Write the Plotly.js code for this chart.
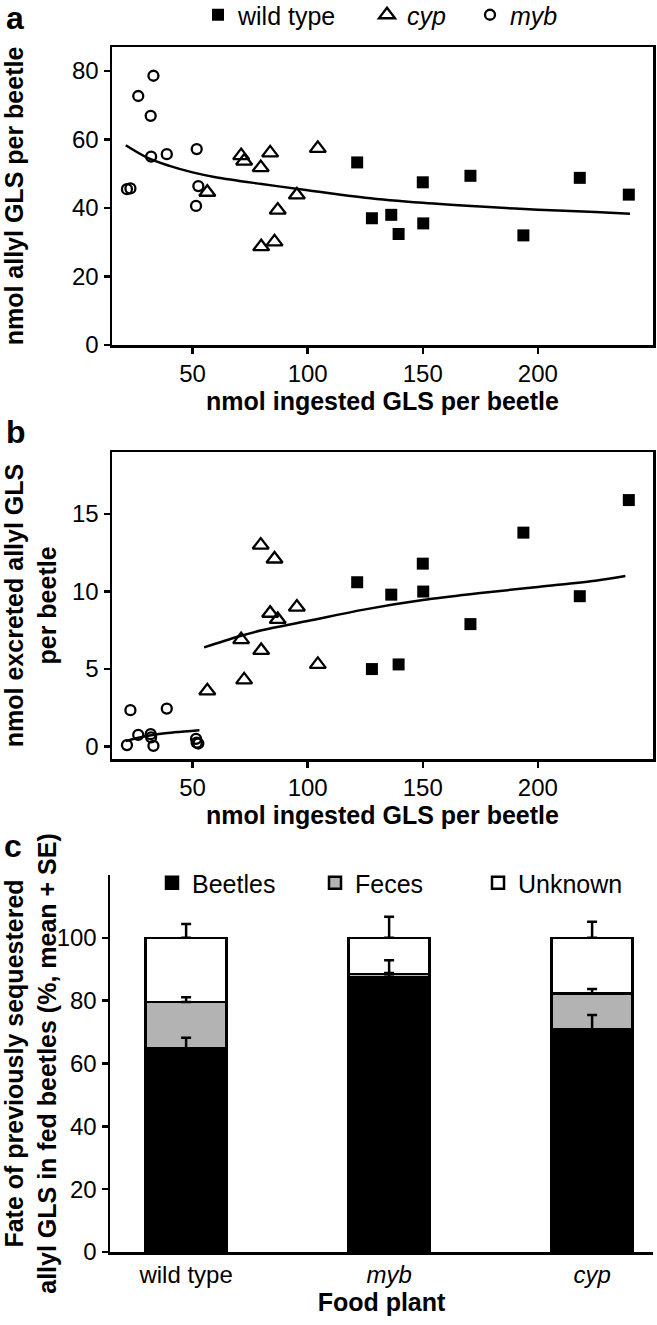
<!DOCTYPE html>
<html>
<head>
<meta charset="utf-8">
<script src="https://cdn.plot.ly/plotly-3.0.1.min.js"></script>
<style>html,body{margin:0;padding:0;background:#fff;}#chart{width:657px;height:1325px;}</style>
</head>
<body>
<div id="chart"></div>
<script>
// ---------- Panel a / b data (nmol ingested GLS per beetle) ----------
const wtX = [121.5,127.9,136.3,139.5,150.0,150.2,170.7,193.7,218.2,239.5];
const wtAllyl = [53.3,37.0,38.0,32.4,47.5,35.5,49.4,32.0,48.8,43.9];
const wtExcreted = [10.6,5.0,9.8,5.3,11.8,10.0,7.9,13.8,9.7,15.9];

const cypX = [56.4,71.1,72.4,79.6,79.8,83.7,85.6,87.0,95.3,104.4];
const cypAllyl = [44.6,55.3,53.7,51.8,28.7,56.1,30.1,39.4,43.8,57.4];
const cypExcreted = [3.6,6.9,4.3,13.0,6.2,8.6,12.1,8.2,9.0,5.3];

const mybX = [21.5,23.0,26.4,31.8,32.0,33.0,38.8,51.5,51.8,52.5];
const mybAllyl = [45.5,45.7,72.7,66.9,55.0,78.6,55.7,40.6,57.2,46.4];
const mybExcreted = [0.1,2.35,0.75,0.8,0.6,0.05,2.45,0.5,0.25,0.2];

// fitted curves
const fitAX = [21,30,40,50,60,80,100,125,150,175,200,225,240];
const fitAY = [58.3,54.8,52.3,50.4,49.0,47.0,45.2,43.0,41.5,40.4,39.5,38.8,38.3];
const fitB1X = [21,26,34,42,53];
const fitB1Y = [0.35,0.55,0.78,0.92,1.06];
const fitB2X = [55,70,80,100,125,150,175,200,225,238];
const fitB2Y = [6.4,7.1,7.5,8.1,8.85,9.45,9.9,10.3,10.7,11.0];

// ---------- Panel c data ----------
const plants = ['wild type','myb','cyp'];
const plantLabels = ['wild type','<i>myb</i>','<i>cyp</i>'];
const beetles = [64.8,87.6,70.8];
const feces = [14.8,0.9,11.5];
const unknown = [20.4,11.5,17.7];
const beetlesSE = [3.4,1.2,4.6];
const fecesSE = [1.5,4.4,1.4];
const unknownSE = [4.4,6.7,5.1];

const FONT = 'Liberation Sans, Arial, sans-serif';
const W = 657, H = 1325;
const px = v => v / W;
const py = v => 1 - v / H;

const sqM = {symbol:'square', size:12, color:'black', line:{width:0}};
const triM = {symbol:'triangle-up-open', size:14, color:'black', line:{width:2.3, color:'black'}};
const cirM = {symbol:'circle-open', size:10, color:'black', line:{width:2.3, color:'black'}};

const traces = [
  {type:'scatter', mode:'markers', name:'wild type', x:wtX, y:wtAllyl, marker:sqM, xaxis:'x', yaxis:'y', legend:'legend'},
  {type:'scatter', mode:'markers', name:'<i>cyp</i>', x:cypX, y:cypAllyl, marker:triM, xaxis:'x', yaxis:'y', legend:'legend3'},
  {type:'scatter', mode:'markers', name:'<i>myb</i>', x:mybX, y:mybAllyl, marker:cirM, xaxis:'x', yaxis:'y', legend:'legend3'},
  {type:'scatter', mode:'lines', x:fitAX, y:fitAY, line:{color:'black', width:2.5, shape:'spline'}, showlegend:false, xaxis:'x', yaxis:'y'},

  {type:'scatter', mode:'markers', x:wtX, y:wtExcreted, marker:sqM, showlegend:false, xaxis:'x2', yaxis:'y2'},
  {type:'scatter', mode:'markers', x:cypX, y:cypExcreted, marker:triM, showlegend:false, xaxis:'x2', yaxis:'y2'},
  {type:'scatter', mode:'markers', x:mybX, y:mybExcreted, marker:cirM, showlegend:false, xaxis:'x2', yaxis:'y2'},
  {type:'scatter', mode:'lines', x:fitB1X, y:fitB1Y, line:{color:'black', width:2.5, shape:'spline'}, showlegend:false, xaxis:'x2', yaxis:'y2'},
  {type:'scatter', mode:'lines', x:fitB2X, y:fitB2Y, line:{color:'black', width:2.5, shape:'spline'}, showlegend:false, xaxis:'x2', yaxis:'y2'},

  {type:'bar', name:'Beetles', x:plants, y:beetles, width:0.4, marker:{color:'black', line:{color:'black', width:2.5}}, xaxis:'x3', yaxis:'y3', legend:'legend2'},
  {type:'bar', name:'Feces', x:plants, y:feces, width:0.4, marker:{color:'#b3b3b3', line:{color:'black', width:2.5}}, xaxis:'x3', yaxis:'y3', legend:'legend2'},
  {type:'bar', name:'Unknown', x:plants, y:unknown, width:0.4, marker:{color:'white', line:{color:'black', width:2.5}}, xaxis:'x3', yaxis:'y3', legend:'legend2'}
];

// error bars (mean + SE) at the top of each stacked segment
const segTops = [
  beetles.map((b,i)=>b),
  beetles.map((b,i)=>b+feces[i]),
  beetles.map((b,i)=>b+feces[i]+unknown[i])
];
const segSE = [beetlesSE, fecesSE, unknownSE];
segTops.forEach((tops,k)=>{
  traces.push({type:'scatter', mode:'markers', x:plants, y:tops, showlegend:false, hoverinfo:'skip',
    marker:{size:1, color:'rgba(0,0,0,0)'}, xaxis:'x3', yaxis:'y3',
    error_y:{type:'data', symmetric:false, array:segSE[k], arrayminus:[0,0,0], color:'black', thickness:2.5, width:5}});
});

const tickF = {family:FONT, size:24, color:'black'};
const titleF = {family:FONT, size:25, color:'black', weight:'bold'};
const legF = {family:FONT, size:25, color:'black'};

const boxAxis = {showline:true, linecolor:'black', linewidth:2.5, mirror:true, ticks:'outside', ticklen:6, tickwidth:2.5, tickcolor:'black',
  showgrid:false, zeroline:false, tickfont:tickF};

const layout = {
  width:W, height:H, margin:{l:0,r:0,t:0,b:0, autoexpand:false}, paper_bgcolor:'white', plot_bgcolor:'white',
  font:{family:FONT, color:'black'},
  barmode:'stack',
  xaxis: Object.assign({}, boxAxis, {domain:[px(112), px(653)], range:[15,250], tickvals:[50,100,150,200], anchor:'y',
    title:{text:'<b>nmol ingested GLS per beetle</b>', font:titleF, standoff:2}}),
  yaxis: Object.assign({}, boxAxis, {domain:[py(345), py(47)], range:[0,87], tickvals:[0,20,40,60,80], anchor:'x',
    title:{text:'<b>nmol allyl GLS per beetle</b>', font:titleF, standoff:42}}),
  xaxis2: Object.assign({}, boxAxis, {domain:[px(112), px(653)], range:[15,250], tickvals:[50,100,150,200], anchor:'y2',
    title:{text:'<b>nmol ingested GLS per beetle</b>', font:titleF, standoff:2}}),
  yaxis2: Object.assign({}, boxAxis, {domain:[py(759), py(452)], range:[-0.8,19], tickvals:[0,5,10,15], anchor:'x2',
    title:{text:'<b>nmol excreted allyl GLS<br>per beetle</b>', font:titleF, standoff:24}}),
  xaxis3: {domain:[px(110), px(653)], range:[-0.375,2.3], type:'category', tickvals:plants, ticktext:plantLabels, anchor:'y3',
    showline:true, linecolor:'black', linewidth:2.5, ticks:'', showgrid:false, zeroline:false, tickfont:tickF,
    title:{text:'<b>Food plant</b>', font:titleF, standoff:6}},
  yaxis3: {domain:[py(1252), py(875)], range:[0,120], tickvals:[0,20,40,60,80,100], anchor:'x3',
    showline:true, linecolor:'black', linewidth:2.5, ticks:'outside', ticklen:6, tickwidth:2.5, tickcolor:'black',
    showgrid:false, zeroline:false, tickfont:tickF,
    title:{text:'<b>Fate of previously sequestered<br>allyl GLS in fed beetles (%, mean + SE)</b>', font:titleF, standoff:2}},
  legend: {orientation:'h', x:px(198), y:py(15), xanchor:'left', yanchor:'middle', font:legF,
    bgcolor:'rgba(0,0,0,0)', itemwidth:30, traceorder:'normal'},
  legend3: {orientation:'h', x:px(367), y:py(15), xanchor:'left', yanchor:'middle', font:legF,
    bgcolor:'rgba(0,0,0,0)', itemwidth:30, traceorder:'normal', entrywidth:58},
  legend2: {orientation:'h', x:px(152), y:py(883), xanchor:'left', yanchor:'middle', font:legF,
    bgcolor:'rgba(0,0,0,0)', itemwidth:30, traceorder:'normal', entrywidth:118},
  annotations: [
    {text:'<b>a</b>', x:px(4), y:py(18), xref:'paper', yref:'paper', xanchor:'left', yanchor:'middle', showarrow:false, font:{family:FONT, size:32, color:'black'}},
    {text:'<b>b</b>', x:px(4), y:py(432), xref:'paper', yref:'paper', xanchor:'left', yanchor:'middle', showarrow:false, font:{family:FONT, size:32, color:'black'}},
    {text:'<b>c</b>', x:px(2), y:py(846), xref:'paper', yref:'paper', xanchor:'left', yanchor:'middle', showarrow:false, font:{family:FONT, size:32, color:'black'}}
  ],
  showlegend:true
};

Plotly.newPlot('chart', traces, layout, {staticPlot:true, displayModeBar:false});
</script>
</body>
</html>
